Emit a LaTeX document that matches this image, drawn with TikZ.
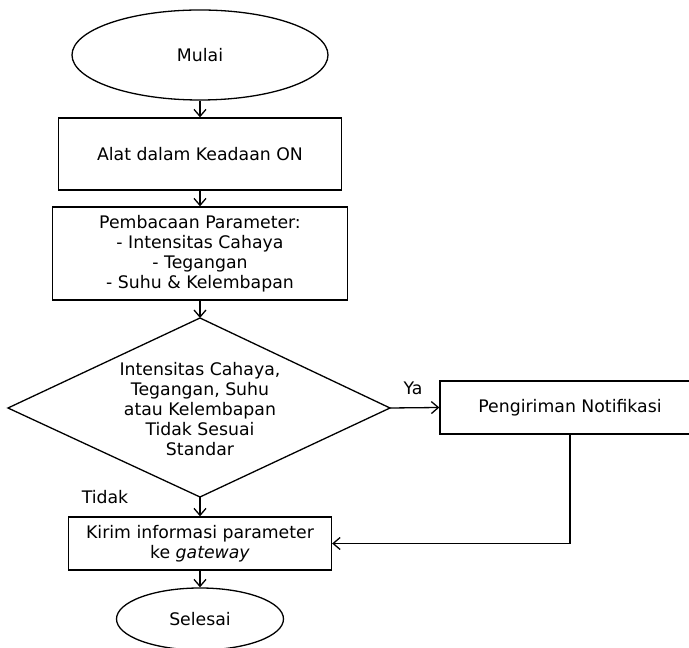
\documentclass[tikz,border=0pt]{standalone}
\usepackage{fontspec}
\setmainfont{DejaVu Sans}
\usetikzlibrary{shapes.geometric,arrows.meta}

\begin{document}
\begin{tikzpicture}[x=1pt,y=1pt,line width=1.3pt,
  box/.style={draw,rectangle,align=center,inner sep=0pt},
  term/.style={draw,ellipse,align=center,inner sep=0pt},
  flow/.style={-{Straight Barb[length=7pt,width=12pt]}},
  every node/.style={font=\fontsize{17.3}{20}\selectfont}]
\useasboundingbox (0,0) rectangle (689,648);
\node[term,minimum width=256pt,minimum height=90pt] (start) at (200,593) {Mulai};
\node[box,minimum width=283pt,minimum height=72pt] (on) at (200,494) {Alat dalam Keadaan ON};
\node[box,minimum width=295pt,minimum height=93pt] (read) at (200,394.5) {Pembacaan Parameter:\\- Intensitas Cahaya\\- Tegangan\\- Suhu \& Kelembapan};
\node[align=center] (check) at (200,239) {Intensitas Cahaya,\\Tegangan, Suhu\\atau Kelembapan\\Tidak Sesuai\\Standar};
\coordinate (ctop) at (200,330);
\coordinate (cleft) at (8,240);
\coordinate (cright) at (390,240);
\coordinate (cbot) at (200,151);
\draw (ctop) -- (cright) -- (cbot) -- (cleft) -- cycle;
\node[box,minimum width=260pt,minimum height=53pt] (notif) at (570,240.5) {Pengiriman Notifikasi};
\node[box,minimum width=263pt,minimum height=53pt] (send) at (200,104.5) {Kirim informasi parameter\\ke \textit{gateway}};
\node[term,minimum width=167pt,minimum height=62pt] (finish) at (200,29) {Selesai};
\node (ya) at (413,260) {Ya};
\node (tidak) at (105,151) {Tidak};
\draw[flow] (start) -- (on);
\draw[flow] (on) -- (read);
\draw[flow] (read) -- (ctop);
\draw[flow] (cright) -- (notif.west);
\draw[flow] (cbot) -- (send.north);
\draw[flow] (notif.south) |- (send.east);
\draw[flow] (send) -- (finish);
\end{tikzpicture}
\end{document}
